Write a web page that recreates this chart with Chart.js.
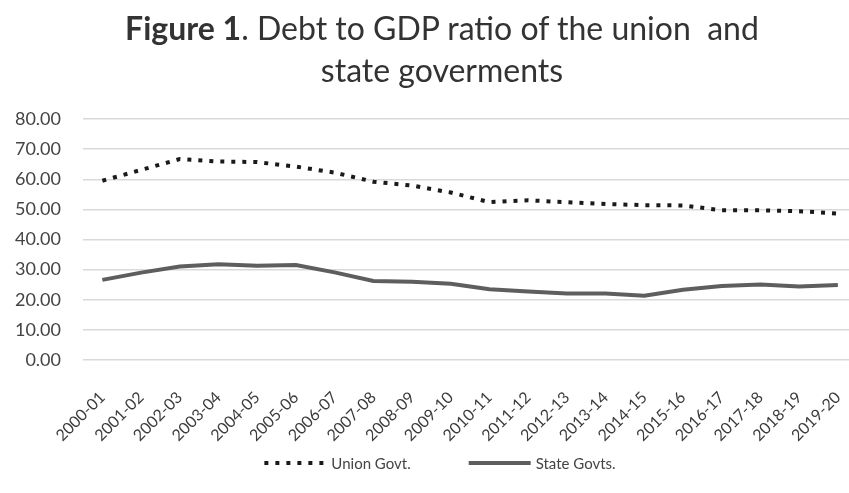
<!DOCTYPE html>
<html>
<head>
<meta charset="utf-8">
<script src="https://cdn.jsdelivr.net/npm/chart.js@4"></script>
<style>
  html, body { margin: 0; padding: 0; background: #fff; overflow: hidden; }
  #wrap { position: relative; width: 849px; height: 493px; overflow: hidden; }
  #title {
    position: absolute; left: 0; top: 7px; width: 884px;
    text-align: center; font-family: Lato, sans-serif; font-size: 32px;
    line-height: 42px; color: #333;
  }
  #title b { font-weight: bold; }
  #box { position: absolute; left: 0; top: 0; width: 880px; height: 493px; }
</style>
</head>
<body>
<div id="wrap">
  <div id="box"><canvas id="debtChart"></canvas></div>
  <div id="title"><b>Figure 1</b>. Debt to GDP ratio of the union &nbsp;and<br>state goverments</div>
</div>
<script>
// Years (financial years) on the x axis
const years = ['2000-01', '2001-02', '2002-03', '2003-04', '2004-05', '2005-06', '2006-07',
    '2007-08', '2008-09', '2009-10', '2010-11', '2011-12', '2012-13', '2013-14',
    '2014-15', '2015-16', '2016-17', '2017-18', '2018-19', '2019-20'];

// Debt to GDP ratio, per cent
const unionGovt = [59.5, 63.1, 66.7, 65.9, 65.7, 64.2, 62.2, 59.2, 57.9, 55.6,
    52.4, 53.0, 52.4, 51.8, 51.4, 51.3, 49.7, 49.7, 49.4, 48.6];
const stateGovts = [26.6, 29.0, 31.0, 31.8, 31.3, 31.5, 29.1, 26.2, 26.0, 25.3,
    23.5, 22.7, 22.1, 22.1, 21.3, 23.3, 24.6, 25.1, 24.4, 24.9];

const seriesNames = ['Union Govt.', 'State Govts.'];

const font = 'Lato, sans-serif';
const textColor = '#444';

// Excel-like legend under the axis labels: line sample then name
const bottomLegend = {
    id: 'bottomLegend',
    afterDraw(chart) {
        const c = chart.ctx;
        const y = 463, sample = 62, gap = 5, between = 58;
        c.save();
        c.font = '15px ' + font;
        const items = chart.data.datasets.map(ds => ({ ds, w: sample + gap + c.measureText(ds.label).width }));
        const total = items.reduce((a, it) => a + it.w, 0) + between * (items.length - 1);
        let x = 440 - total / 2;
        items.forEach(({ ds, w }) => {
            c.beginPath();
            c.setLineDash(ds.borderDash || []);
            c.lineCap = 'butt';
            c.lineWidth = ds.borderWidth;
            c.strokeStyle = ds.borderColor;
            c.moveTo(x, y);
            c.lineTo(x + sample, y);
            c.stroke();
            c.setLineDash([]);
            c.fillStyle = textColor;
            c.textBaseline = 'middle';
            c.textAlign = 'left';
            c.fillText(ds.label, x + sample + gap, y + 1);
            x += w + between;
        });
        c.restore();
    },
};

const ctx = document.getElementById('debtChart').getContext('2d');

new Chart(ctx, {
    type: 'line',
    data: {
        labels: years,
        datasets: [
            {
                label: seriesNames[0],
                data: unionGovt,
                borderColor: '#1a1a1a',
                borderWidth: 4,
                borderDash: [4, 7],
                borderCapStyle: 'butt',
                pointRadius: 0,
                tension: 0,
                fill: false,
            },
            {
                label: seriesNames[1],
                data: stateGovts,
                borderColor: '#5e5e5e',
                borderWidth: 4,
                pointRadius: 0,
                tension: 0,
                fill: false,
            },
        ],
    },
    plugins: [bottomLegend],
    options: {
        responsive: true,
        maintainAspectRatio: false,
        animation: false,
        layout: { padding: { top: 119, right: 22.6, left: 0, bottom: 48 } },
        plugins: {
            title: { display: false },
            tooltip: { enabled: false },
            legend: { display: false },
        },
        scales: {
            x: {
                offset: true,
                grid: { display: false, drawTicks: false },
                border: { display: false },
                ticks: {
                    color: '#3c3c3c',
                    font: { family: font, size: 16 },
                    maxRotation: 45,
                    minRotation: 45,
                    autoSkip: false,
                    padding: 28,
                    labelOffset: 0,
                },
                afterFit: (s) => { s.height = 85; },
            },
            y: {
                min: 0,
                max: 80,
                grid: { color: '#d9d9d9', lineWidth: 1.5, drawTicks: false },
                border: { display: false },
                ticks: {
                    stepSize: 10,
                    color: textColor,
                    font: { family: font, size: 18 },
                    padding: 22,
                    callback: (v) => v.toFixed(2),
                },
                afterFit: (s) => { s.width = 83; },
            },
        },
    },
});
</script>
</body>
</html>
